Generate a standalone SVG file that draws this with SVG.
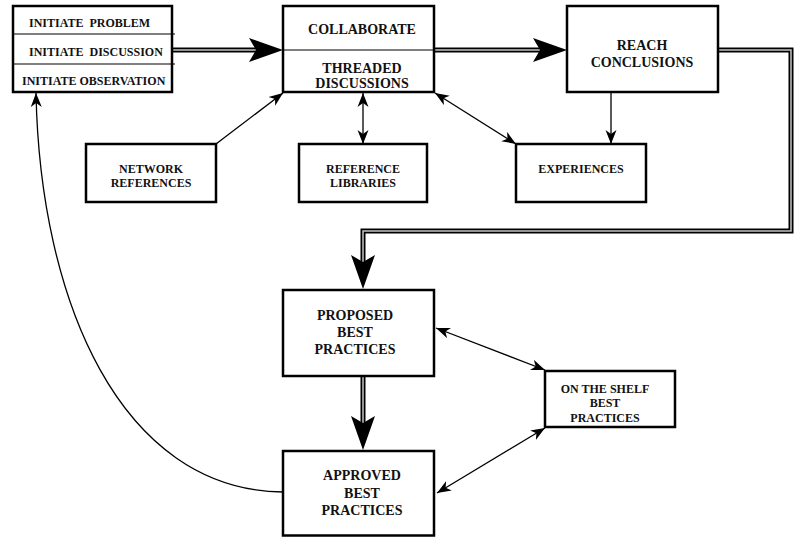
<svg xmlns="http://www.w3.org/2000/svg" xmlns:xlink="http://www.w3.org/1999/xlink" width="796" height="537" viewBox="0 0 796 537">
<style>
  .box { fill: #fff; stroke: #000; stroke-width: 2.5; }
  .div { stroke: #000; stroke-width: 1.2; fill: none; }
  .t { font-family: "Liberation Serif", "Times New Roman", serif; font-weight: bold; fill: #111; }
  .big { font-size: 14px; text-anchor: middle; }
  .sm { font-size: 12px; text-anchor: middle; }
  .ini { font-size: 12px; }
  .ln { stroke: #000; stroke-width: 1.3; fill: none; }
  .dblo { stroke: #000; stroke-width: 5; fill: none; }
  .dbli { stroke: #c4c4c4; stroke-width: 1.5; fill: none; }
</style>
<defs>
  <marker id="ah" viewBox="-14 -6 15 12" refX="0" refY="0" markerWidth="15" markerHeight="12" markerUnits="userSpaceOnUse" orient="auto-start-reverse">
    <path d="M0,0 L-14,-5.5 L-10,0 L-14,5.5 Z" fill="#000"/>
  </marker>
  <path id="bigHead" d="M0,0 L-34,-12 L-27,0 L-34,12 Z" fill="#000"/>
</defs>

<g id="connectors">
  <!-- double-line flows -->
  <path class="dblo" d="M172,50 H258"/>
  <path class="dbli" d="M172,50 H258"/>
  <use xlink:href="#bigHead" transform="translate(283,50)"/>

  <path class="dblo" d="M435,50 H542"/>
  <path class="dbli" d="M435,50 H542"/>
  <use xlink:href="#bigHead" transform="translate(567,50)"/>

  <path class="dblo" d="M719,50 H791 V231 H363 V262"/>
  <path class="dbli" d="M719,50 H791 V231 H363 V262"/>
  <use xlink:href="#bigHead" transform="translate(363,289) rotate(90)"/>

  <path class="dblo" d="M363,377 V424"/>
  <path class="dbli" d="M363,377 V424"/>
  <use xlink:href="#bigHead" transform="translate(363,450) rotate(90)"/>

  <!-- single-line connectors -->
  <line class="ln" x1="216" y1="144" x2="283" y2="93" marker-end="url(#ah)"/>
  <line class="ln" x1="363" y1="93" x2="363" y2="144" marker-start="url(#ah)" marker-end="url(#ah)"/>
  <line class="ln" x1="435" y1="93" x2="516" y2="144" marker-start="url(#ah)" marker-end="url(#ah)"/>
  <line class="ln" x1="611" y1="92" x2="611" y2="144" stroke="#333" marker-end="url(#ah)"/>
  <line class="ln" x1="436" y1="328" x2="545" y2="370" marker-start="url(#ah)" marker-end="url(#ah)"/>
  <line class="ln" x1="437" y1="493" x2="545" y2="428" marker-start="url(#ah)" marker-end="url(#ah)"/>
  <path class="ln" d="M283,492 C120,490 40,300 36,93" marker-end="url(#ah)"/>
</g>

<g id="initiate">
  <rect class="box" x="13" y="6" width="159" height="86"/>
  <line class="div" x1="13" y1="34" x2="175" y2="34"/>
  <line class="div" x1="13" y1="64" x2="175" y2="64"/>
  <text class="t ini" x="29" y="27" xml:space="preserve">INITIATE  PROBLEM</text>
  <text class="t ini" x="29" y="56" xml:space="preserve">INITIATE  DISCUSSION</text>
  <text class="t ini" x="22" y="85">INITIATE OBSERVATION</text>
</g>

<g id="collaborate">
  <rect class="box" x="283" y="6" width="151" height="86"/>
  <line class="div" x1="283" y1="50" x2="434" y2="50"/>
  <text class="t big" x="362" y="34">COLLABORATE</text>
  <text class="t big" x="362" y="73">THREADED</text>
  <text class="t big" x="362" y="88">DISCUSSIONS</text>
</g>

<g id="reach">
  <rect class="box" x="567" y="6" width="151" height="86"/>
  <text class="t big" x="642" y="50">REACH</text>
  <text class="t big" x="642" y="67">CONCLUSIONS</text>
</g>

<g id="network">
  <rect class="box" x="86" y="144" width="130" height="58"/>
  <text class="t sm" x="151" y="173">NETWORK</text>
  <text class="t sm" x="151" y="187">REFERENCES</text>
</g>

<g id="reflib">
  <rect class="box" x="299" y="144" width="128" height="58"/>
  <text class="t sm" x="363" y="173">REFERENCE</text>
  <text class="t sm" x="363" y="187">LIBRARIES</text>
</g>

<g id="experiences">
  <rect class="box" x="516" y="144" width="130" height="58"/>
  <text class="t sm" x="581" y="173">EXPERIENCES</text>
</g>

<g id="proposed">
  <rect class="box" x="283" y="290" width="151" height="86"/>
  <text class="t big" x="355" y="320">PROPOSED</text>
  <text class="t big" x="355" y="337">BEST</text>
  <text class="t big" x="355" y="354">PRACTICES</text>
</g>

<g id="shelf">
  <rect class="box" x="545" y="371" width="130" height="56"/>
  <text class="t sm" x="605" y="393">ON THE SHELF</text>
  <text class="t sm" x="605" y="407">BEST</text>
  <text class="t sm" x="605" y="422">PRACTICES</text>
</g>

<g id="approved">
  <rect class="box" x="283" y="451" width="151" height="84.5"/>
  <text class="t big" x="362" y="480">APPROVED</text>
  <text class="t big" x="362" y="498">BEST</text>
  <text class="t big" x="362" y="515">PRACTICES</text>
</g>
</svg>
